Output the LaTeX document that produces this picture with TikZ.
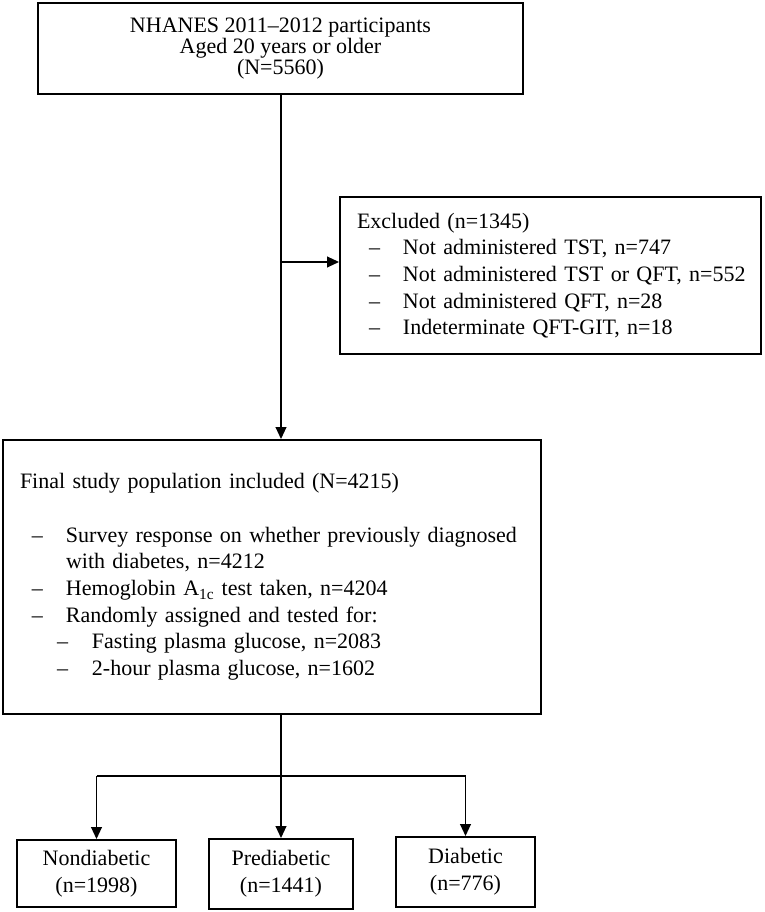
\documentclass[tikz,border=0pt]{standalone}
\usepackage{fontspec}
\setmainfont{Liberation Serif}
\usetikzlibrary{arrows.meta}

\newcommand{\lstitem}[1]{\hspace*{9pt}\makebox[25.5pt][l]{–}\mbox{#1}}
\newcommand{\lstsub}[1]{\hspace*{27.75pt}\makebox[26.25pt][l]{–}\mbox{#1}}
\newcommand{\lstcont}[1]{\hspace*{34.5pt}\mbox{#1}}

\tikzset{
  box/.style={draw, line width=1.4pt, inner sep=0pt,
    font=\fontsize{16.5}{20}\selectfont},
  listbox/.style={box, align=left, inner xsep=12.75pt},
  groupbox/.style={box, align=center, font=\fontsize{16.5}{20}\selectfont},
  arr/.style={-{Triangle[length=9pt,width=8pt]}, line width=1.4pt},
  link/.style={line width=1.4pt}
}

\begin{document}
\begin{tikzpicture}[x=0.75pt,y=-0.75pt]
  \useasboundingbox (0,0) rectangle (764,912);

  % boxes
  \node[box, align=center, minimum width=363.75pt, minimum height=68.25pt,
        font=\fontsize{16.5}{16}\selectfont] (nhanes) at (280.5,48.5)
    {NHANES 2011–2012 participants\\ Aged 20 years or older\\ (N=5560)};

  \node[listbox, text width=290.25pt, minimum height=117.75pt] (excl) at (550.5,275.5)
    {Excluded (n=1345)\\
     \lstitem{Not administered TST, n=747}\\
     \lstitem{Not administered TST or QFT, n=552}\\
     \lstitem{Not administered QFT, n=28}\\
     \lstitem{Indeterminate QFT-GIT, n=18}};

  \node[listbox, text width=378pt, minimum height=205.5pt] (final) at (272,577)
    {Final study population included (N=4215)\\[20pt]
     \lstitem{Survey response on whether previously diagnosed}\\
     \lstcont{with diabetes, n=4212}\\
     \lstitem{Hemoglobin A\textsubscript{1c} test taken, n=4204}\\
     \lstitem{Randomly assigned and tested for:}\\
     \lstsub{Fasting plasma glucose, n=2083}\\
     \lstsub{2-hour plasma glucose, n=1602}};

  \node[groupbox, minimum width=119.25pt, minimum height=50.25pt] (nondia) at (96.5,873.5)
    {Nondiabetic\\ (n=1998)};
  \node[groupbox, minimum width=108pt, minimum height=52.5pt] (predia) at (281,874)
    {Prediabetic\\ (n=1441)};
  \node[groupbox, minimum width=104.25pt, minimum height=52.5pt] (dia) at (465.5,872)
    {Diabetic\\ (n=776)};

  % connectors
  \coordinate (split) at (281,262);
  \coordinate (fork) at (281,776);
  \draw[arr] (nhanes.south -| split) -- (final.north -| split);
  \draw[arr] (split) -- (split -| excl.west);
  \draw[arr] (final.south -| predia.north) -- (predia.north);
  \draw[link] (fork -| nondia.north) -- (fork -| dia.north);
  \draw[arr] (fork -| nondia.north) -- (nondia.north);
  \draw[arr] (fork -| dia.north) -- (dia.north);
\end{tikzpicture}
\end{document}
